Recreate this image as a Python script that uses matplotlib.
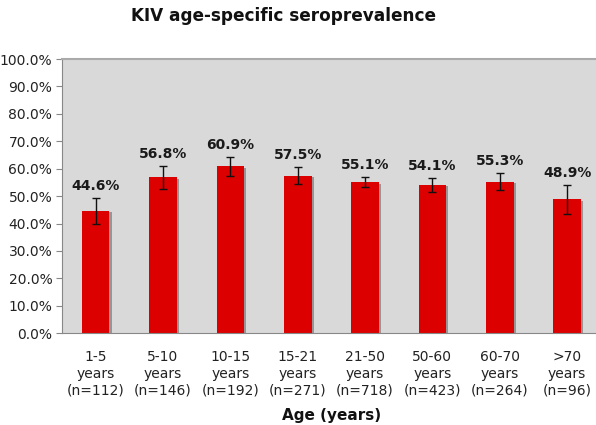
import numpy as np
import matplotlib.pyplot as plt
import matplotlib.patheffects as pe
from matplotlib.ticker import PercentFormatter

ages = ['1-5', '5-10', '10-15', '15-21', '21-50', '50-60', '60-70', '>70']
n_sizes = [112, 146, 192, 271, 718, 423, 264, 96]
prevalence = [44.6, 56.8, 60.9, 57.5, 55.1, 54.1, 55.3, 48.9]
errors = [4.8, 4.1, 3.5, 3.0, 1.8, 2.5, 3.1, 5.3]

labels = [f'{a}\nyears\n(n={n})' for a, n in zip(ages, n_sizes)]

fig = plt.figure(figsize=(5.96, 4.25), dpi=100)
ax = fig.add_axes([0.104, 0.216, 0.904, 0.645])
ax.set_facecolor('#d9d9d9')

x = np.arange(len(ages))
bars = ax.bar(x, prevalence, width=0.41, color='#dd0000', zorder=2)
for b in bars:
    b.set_path_effects([pe.SimplePatchShadow(offset=(1.5, -1), shadow_rgbFace='#555555', alpha=0.5),
                        pe.Normal()])
ax.errorbar(x, prevalence, yerr=errors, fmt='none', ecolor='#111111',
            elinewidth=1, capsize=3, capthick=1, zorder=3)

for xi, v, e in zip(x, prevalence, errors):
    ax.annotate(f'{v:.1f}%', (xi, v + e), xytext=(0, 3.5), textcoords='offset points',
                ha='center', va='bottom', fontsize=10, fontweight='bold', color='#1a1a1a')

ax.set_xlim(-0.5, len(ages) - 0.5)
ax.set_ylim(0, 100)
ax.set_yticks(np.arange(0, 101, 10))
ax.yaxis.set_major_formatter(PercentFormatter(decimals=1))
ax.set_xticks(x)
ax.set_xticklabels(labels, fontsize=10, color='#222222', linespacing=1.25)
ax.tick_params(axis='x', length=0, pad=12)
ax.tick_params(axis='y', length=4, color='#888888', labelsize=10, labelcolor='#222222', pad=3)

for s in ['left', 'bottom']:
    ax.spines[s].set_color('#888888')
ax.spines['top'].set_color('#aaaaaa')
ax.spines['top'].set_linewidth(1.5)
ax.spines['right'].set_visible(False)

ax.set_xlabel('Age (years)', fontsize=11, fontweight='bold', color='#111111', labelpad=8)
fig.text(0.475, 0.962, 'KIV age-specific seroprevalence', ha='center', va='center',
         fontsize=12.2, fontweight='bold', color='#111111')

fig.savefig('out.png', dpi=100)
